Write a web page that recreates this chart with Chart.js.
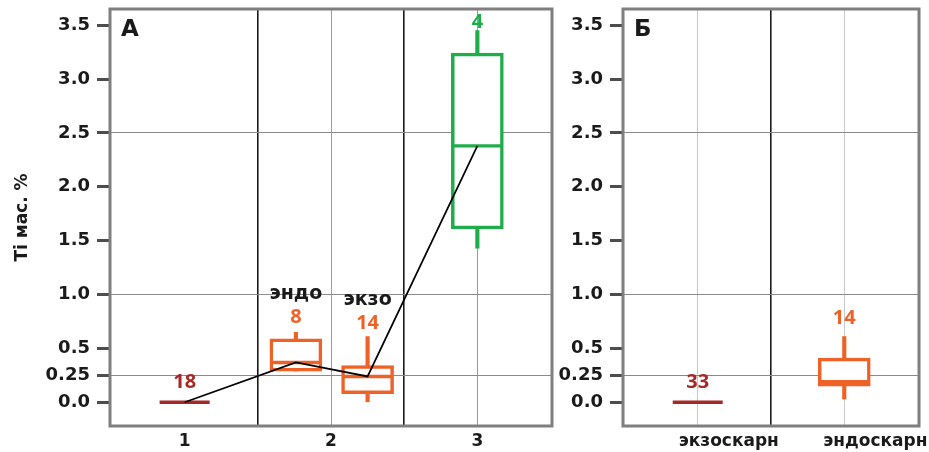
<html>
<head>
<meta charset="utf-8">
<script src="https://cdn.jsdelivr.net/npm/chart.js@4.4.0/dist/chart.umd.min.js"></script>
<style>
  body { margin: 0; background: #fff; }
  .panel { position: absolute; top: 0; }
  #panelA { left: 0; }
  #panelB { left: 545px; }
</style>
</head>
<body>
<canvas id="panelA" class="panel" width="565" height="452"></canvas>
<canvas id="panelB" class="panel" width="384" height="452"></canvas>
<script>
  // y axis
  let yTicks = [0, 0.25, 0.5, 1.0, 1.5, 2.0, 2.5, 3.0, 3.5];
  let yGridAt = [0.25, 1.0, 2.5];

  // panel A: groups 1..3, group 2 split into endo / exo
  let catA = ['1', '2', '3'];
  let boxXA = [1, 1.76, 2.25, 3];
  let minA = [0, 0.29, 0.0, 1.43];
  let q1A = [0, 0.29, 0.08, 1.61];
  let medA = [0, 0.37, 0.24, 2.38];
  let q3A = [0, 0.59, 0.34, 3.24];
  let maxA = [0, 0.65, 0.61, 3.45];
  let nA = [18, 8, 14, 4];
  let subA = ['', 'эндо', 'экзо', ''];

  // panel B
  let catB = ['экзоскарн', 'эндоскарн'];
  let boxXB = [1, 2];
  let minB = [0, 0.03];
  let q1B = [0, 0.15];
  let medB = [0, 0.19];
  let q3B = [0, 0.41];
  let maxB = [0, 0.61];
  let nB = [33, 14];

  // colours
  let darkRed = '#a52a27';
  let orange = '#ee6228';
  let green = '#1fad4b';
  let colorsA = [darkRed, orange, orange, green];
  let colorsB = [darkRed, orange];
  let labelGapA = [14, 9, 8, 3];
  let labelGapB = [14, 13];

  let frameColor = '#7f7f7f';
  let textColor = '#1a1a1a';
  let mainFont = 'DejaVu Sans';

  function tickVal(c) {
    return c && c.tick ? c.tick.value : null;
  }

  function noPadding(s) {
    s.paddingTop = 0;
    s.paddingBottom = 0;
    s.paddingLeft = 0;
    s.paddingRight = 0;
  }

  function boxDatasets(xs, mins, q1s, meds, q3s, maxs, colors) {
    return [
      {
        type: 'bar', order: 3, grouped: false, barThickness: 3.5,
        data: xs.map((x, i) => ({ x: x, y: [q3s[i], maxs[i]] })),
        backgroundColor: colors, borderWidth: 0
      },
      {
        type: 'bar', order: 3, grouped: false, barThickness: 3.5,
        data: xs.map((x, i) => ({ x: x, y: [mins[i], q1s[i]] })),
        backgroundColor: colors, borderWidth: 0
      },
      {
        type: 'bar', order: 2, grouped: false, barThickness: 52,
        data: xs.map((x, i) => ({ x: x, y: [q1s[i], q3s[i]] })),
        backgroundColor: '#ffffff', borderColor: colors, borderWidth: 3.5, borderSkipped: false
      },
      {
        type: 'line', order: 1, showLine: false,
        data: xs.map((x, i) => ({ x: x, y: meds[i] })),
        pointStyle: 'line', pointRadius: 25, pointBorderWidth: 3.4,
        pointBorderColor: colors, pointBackgroundColor: colors
      }
    ];
  }

  // frame around plot area + text labels above boxes
  function panelPlugin(letter, xs, maxs, counts, subs, colors, gaps) {
    return {
      id: 'panelDecor',
      afterDatasetsDraw(chart) {
        let ctx = chart.ctx;
        let a = chart.chartArea;
        let xS = chart.scales.x, yS = chart.scales.y;
        ctx.save();
        ctx.strokeStyle = frameColor;
        ctx.lineWidth = 3;
        ctx.strokeRect(a.left, a.top, a.right - a.left, a.bottom - a.top);

        ctx.fillStyle = textColor;
        ctx.font = 'bold 23px ' + mainFont;
        ctx.textAlign = 'left';
        ctx.textBaseline = 'alphabetic';
        ctx.fillText(letter, a.left + 11, a.top + 27);

        ctx.textAlign = 'center';
        xs.forEach((x, i) => {
          let px = xS.getPixelForValue(x);
          let py = yS.getPixelForValue(maxs[i]) - gaps[i];
          ctx.fillStyle = colors[i];
          ctx.font = 'bold 20px "Open Sans"';
          ctx.fillText(String(counts[i]), px, py);
          if (subs && subs[i]) {
            ctx.fillStyle = textColor;
            ctx.font = 'bold 19px ' + mainFont;
            ctx.fillText(subs[i], px, py - 24);
          }
        });
        ctx.restore();
      }
    };
  }

  function yScale(withTitle, width) {
    return {
      type: 'linear', min: -0.22, max: 3.65,
      afterBuildTicks: s => { s.ticks = yTicks.map(v => ({ value: v })); },
      afterFit: s => { s.width = width; noPadding(s); },
      ticks: {
        padding: 7, color: textColor,
        font: { family: mainFont, weight: 'bold', size: 18 },
        callback: v => (v === 0.25 ? '0.25' : v.toFixed(1))
      },
      grid: {
        color: c => (yGridAt.includes(tickVal(c)) ? '#8a8a8a' : 'rgba(0,0,0,0)'),
        lineWidth: 1,
        tickColor: '#4d4d4d', tickWidth: 3, tickLength: 13
      },
      border: { display: false },
      title: {
        display: withTitle, text: 'Ti мас. %', color: textColor,
        font: { family: mainFont, weight: 'bold', size: 17 },
        padding: { top: 12, bottom: 0 }
      }
    };
  }

  function xScale(cats, maxX, gridColor, labelOffset) {
    let ticks = [];
    for (let v = 1; v <= cats.length; v += 0.5) ticks.push(v);
    return {
      type: 'linear', min: 0.49, max: maxX, offset: false,
      afterBuildTicks: s => { s.ticks = ticks.map(v => ({ value: v })); },
      afterFit: s => { s.height = 26; noPadding(s); },
      ticks: {
        autoSkip: false, maxRotation: 0, padding: 5, color: textColor,
        labelOffset: labelOffset,
        font: { family: mainFont, weight: 'bold', size: 17 },
        callback: v => (Number.isInteger(v) ? cats[v - 1] : '')
      },
      grid: {
        offset: false,
        drawTicks: false,
        color: c => {
          let v = tickVal(c);
          if (v === null) return 'rgba(0,0,0,0)';
          if (!Number.isInteger(v)) return '#1a1a1a';
          if (gridColor.skipFirst && v === 1) return 'rgba(0,0,0,0)';
          return gridColor.color;
        },
        lineWidth: c => {
          let v = tickVal(c);
          return v !== null && !Number.isInteger(v) ? 1.6 : 1;
        }
      },
      border: { display: false }
    };
  }

  let commonOpts = {
    responsive: false,
    animation: false,
    plugins: { legend: { display: false }, tooltip: { enabled: false } }
  };

  // panel A
  let dsA = boxDatasets(boxXA, minA, q1A, medA, q3A, maxA, colorsA);
  dsA.push({
    type: 'line', order: 0,
    data: boxXA.map((x, i) => ({ x: x, y: medA[i] })),
    borderColor: '#000', borderWidth: 1.7, pointRadius: 0, tension: 0
  });

  new Chart(document.getElementById('panelA'), {
    type: 'bar',
    data: { datasets: dsA },
    options: Object.assign({}, commonOpts, {
      layout: { autoPadding: false, padding: { left: 0, top: 9, right: 13, bottom: 0 } },
      scales: {
        x: xScale(catA, 3.51, { color: '#9a9a9a', skipFirst: true }, 0),
        y: yScale(true, 110)
      }
    }),
    plugins: [panelPlugin('А', boxXA, maxA, nA, subA, colorsA, labelGapA)]
  });

  // panel B
  new Chart(document.getElementById('panelB'), {
    type: 'bar',
    data: { datasets: boxDatasets(boxXB, minB, q1B, medB, q3B, maxB, colorsB) },
    options: Object.assign({}, commonOpts, {
      layout: { autoPadding: false, padding: { left: 0, top: 9, right: 10, bottom: 0 } },
      scales: {
        x: xScale(catB, 2.51, { color: '#c8c8c8', skipFirst: false }, 31),
        y: yScale(false, 78)
      }
    }),
    plugins: [panelPlugin('Б', boxXB, maxB, nB, null, colorsB, labelGapB)]
  });
</script>
</body>
</html>
